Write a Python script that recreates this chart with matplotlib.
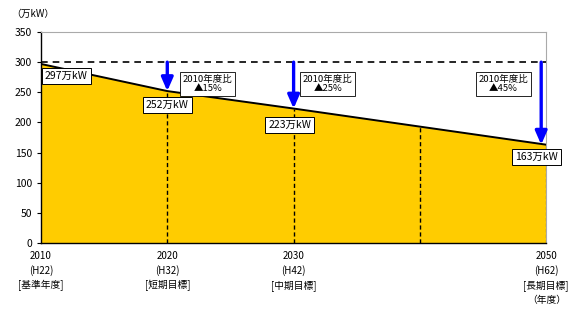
import matplotlib
matplotlib.use("Agg")
import matplotlib.pyplot as plt

plt.rcParams['font.family'] = ['Noto Sans CJK JP', 'DejaVu Sans']

years = [2010, 2020, 2030, 2040, 2050]
values = [297, 252, 223, 193, 163]
base_value = 300
tick_years = [2010, 2020, 2030, 2050]
tick_labels = ["2010\n(H22)\n[基準年度]", "2020\n(H32)\n[短期目標]",
               "2030\n(H42)\n[中期目標]", "2050\n(H62)\n[長期目標]"]
value_labels = ["297万kW", "252万kW", "223万kW", "163万kW"]
label_years = [2010, 2020, 2030, 2050]
label_values = [297, 252, 223, 163]
arrow_years = [2020, 2030, 2049.6]
arrow_values = [252, 223, 163]
ratio_labels = ["2010年度比\n▲15%", "2010年度比\n▲25%", "2010年度比\n▲45%"]

fig = plt.figure(figsize=(5.69, 3.11), dpi=100)
ax = fig.add_axes([0.072, 0.219, 0.888, 0.678])

ax.fill_between(years, values, 0, color='#FFCC00', zorder=1)
ax.plot(years, values, color='black', lw=1.4, zorder=3)
ax.plot([2010, 2050], [base_value, base_value], color='black', lw=1.2,
        ls=(0, (4, 3)), zorder=3)
for y, v in zip(years[1:4], values[1:4]):
    ax.plot([y, y], [0, v], color='black', lw=1.0, ls=(0, (3, 2)), zorder=2)
ax.plot([2050, 2050], [0, 163], color='black', lw=0.8, ls=(0, (3, 2)), zorder=2)

for x, v in zip(arrow_years, arrow_values):
    ax.annotate('', xy=(x, v), xytext=(x, base_value),
                arrowprops=dict(arrowstyle='-|>,head_width=0.35,head_length=0.8',
                                color='#0000FF', lw=2.4, shrinkA=0, shrinkB=0),
                zorder=4)

box = dict(boxstyle='square,pad=0.3', fc='white', ec='black', lw=0.7)
offsets = [(0.3, -20), (0.0, -23), (-0.3, -27), (-0.8, -21)]
for x, v, t, (dx, dy) in zip(label_years, label_values, value_labels, offsets):
    ha = 'left' if x == 2010 else 'center'
    ax.text(x + dx, v + dy, t, fontsize=7.5, ha=ha, va='center', bbox=box,
            zorder=5)

ratio_pos = [(2023.2, 264), (2032.7, 264), (2046.6, 264)]
for (x, y), t in zip(ratio_pos, ratio_labels):
    ax.text(x, y, t, fontsize=6.8, ha='center', va='center', linespacing=1.0,
            bbox=dict(boxstyle='square,pad=0.3', fc='white', ec='black', lw=0.6),
            zorder=5)

ax.set_xlim(2010, 2050)
ax.set_ylim(0, 350)
ax.set_yticks(range(0, 351, 50))
ax.set_xticks(tick_years)
ax.set_xticklabels(tick_labels, fontsize=7, linespacing=1.45)
ax.tick_params(axis='x', length=0, pad=6)
ax.tick_params(axis='y', labelsize=7.5, length=3, width=0.8)
for s in ['left', 'bottom']:
    ax.spines[s].set_color('black')
    ax.spines[s].set_linewidth(1.0)
for s in ['top', 'right']:
    ax.spines[s].set_color('#aaaaaa')
    ax.spines[s].set_linewidth(0.8)

fig.text(0.02, 0.955, '（万kW）', fontsize=7, va='center')
fig.text(0.995, 0.035, '（年度）', fontsize=7, ha='right', va='center')

fig.savefig('out.png', dpi=100)
